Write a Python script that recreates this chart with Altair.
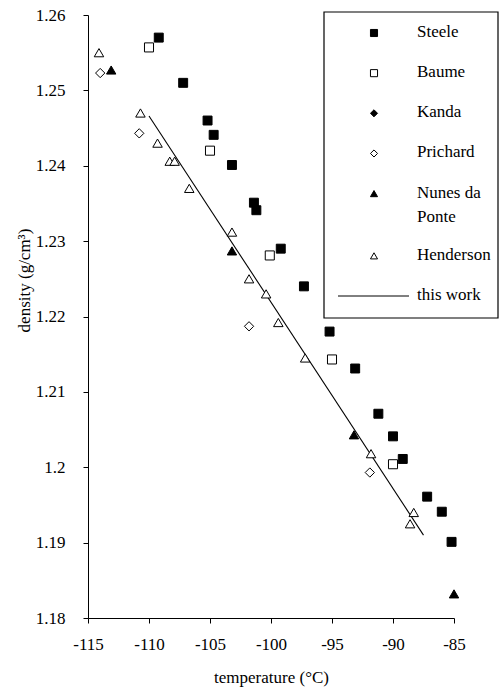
import altair as alt
import pandas as pd

series_names = ["Steele", "Baume", "Kanda", "Prichard", "Nunes da Ponte", "Henderson"]
legend_labels = ["Steele", "Baume", "Kanda", "Prichard", "Nunes da\nPonte", "Henderson", "this work"]

steele_t = [-109.2, -107.2, -105.2, -104.7, -103.2, -101.4, -101.2, -99.2, -97.3, -95.2, -93.1, -91.2, -90.0, -89.2, -87.2, -86.0, -85.2]
steele_d = [1.2570, 1.2510, 1.2460, 1.2441, 1.2401, 1.2351, 1.2341, 1.2290, 1.2240, 1.2180, 1.2131, 1.2071, 1.2041, 1.2011, 1.1961, 1.1941, 1.1901]

baume_t = [-110.0, -105.0, -100.1, -95.0, -90.0]
baume_d = [1.2557, 1.2420, 1.2281, 1.2143, 1.2004]

kanda_t = []
kanda_d = []

prichard_t = [-114.0, -110.8, -101.8, -91.9]
prichard_d = [1.2523, 1.2443, 1.2187, 1.1993]

nunes_t = [-113.1, -103.2, -93.2, -85.0]
nunes_d = [1.2527, 1.2287, 1.2043, 1.1832]

henderson_t = [-114.1, -110.7, -109.3, -108.3, -107.9, -106.7, -103.2, -101.8, -100.4, -99.4, -97.2, -91.8, -88.3, -88.6]
henderson_d = [1.2550, 1.2470, 1.2430, 1.2406, 1.2406, 1.2370, 1.2312, 1.2250, 1.2230, 1.2192, 1.2145, 1.2018, 1.1940, 1.1925]

fit_t = [-110.0, -87.5]
fit_d = [1.2466, 1.1910]

x_ticks = [-115, -110, -105, -100, -95, -90, -85]
y_ticks = [1.18, 1.19, 1.20, 1.21, 1.22, 1.23, 1.24, 1.25, 1.26]

rows = []
for name, ts, ds in [("Steele", steele_t, steele_d), ("Baume", baume_t, baume_d),
                     ("Kanda", kanda_t, kanda_d), ("Prichard", prichard_t, prichard_d),
                     ("Nunes da Ponte", nunes_t, nunes_d), ("Henderson", henderson_t, henderson_d)]:
    for t, d in zip(ts, ds):
        rows.append({"series": name, "sz": name, "temperature": t, "density": d})
pts = pd.DataFrame(rows)
fit = pd.DataFrame({"temperature": fit_t, "density": fit_d})

# legend rows (row index grows by 1 per entry, more for two-line labels)
leg_rows = []
r = 0.0
for key, lab in zip(series_names + ["this work"], legend_labels):
    leg_rows.append({"series": key, "label": lab, "row": r})
    r += 1 + 0.55 * lab.count("\n")
leg = pd.DataFrame(leg_rows)
leg_markers = leg[leg["series"] != "this work"]
leg_line = leg[leg["series"] == "this work"]

shapes = ["square", "square", "diamond", "diamond", "triangle-up", "triangle-up"]
fills = ["black", "white", "black", "white", "black", "white"]
sizes = [80, 90, 65, 65, 95, 130]

FONT = "Liberation Serif"
xscale = alt.Scale(domain=[-115, -85], nice=False, zero=False)
yscale = alt.Scale(domain=[1.18, 1.26], nice=False, zero=False)
shape_scale = alt.Scale(domain=series_names, range=shapes)
fill_scale = alt.Scale(domain=series_names, range=fills)
leg_yscale = alt.Scale(domain=[0, float(leg["row"].max())], range=[18, 281], nice=False, zero=False)

xaxis = alt.Axis(values=x_ticks, labelExpr="toString(datum.value)", title="temperature (°C)",
                 grid=False, tickSize=5, labelPadding=13,
                 titleY=59, titleBaseline="middle",
                 labelFont=FONT, labelFontSize=17, titleFont=FONT, titleFontSize=17,
                 titleFontWeight="normal", domainColor="black", tickColor="black", labelColor="black",
                 titleColor="black", labelFlush=False)
yaxis = alt.Axis(values=y_ticks, labelExpr="toString(round(datum.value*100)/100)", title="density (g/cm³)",
                 grid=False, tickSize=5, labelPadding=18,
                 titleX=-64, titleY=265, titleBaseline="middle", titleAngle=270,
                 labelFont=FONT, labelFontSize=17, titleFont=FONT, titleFontSize=17,
                 titleFontWeight="normal", domainColor="black", tickColor="black", labelColor="black",
                 titleColor="black", labelFlush=False)

points = alt.Chart(pts).mark_point(filled=True, stroke="black", strokeWidth=1, opacity=1).encode(
    x=alt.X("temperature:Q", scale=xscale, axis=xaxis),
    y=alt.Y("density:Q", scale=yscale, axis=yaxis),
    shape=alt.Shape("series:N", scale=shape_scale, legend=None),
    fill=alt.Fill("series:N", scale=fill_scale, legend=None),
    size=alt.Size("sz:N", scale=alt.Scale(domain=series_names, range=sizes), legend=None),
)

line = alt.Chart(fit).mark_line(color="black", strokeWidth=1.1).encode(
    x=alt.X("temperature:Q", scale=xscale, axis=xaxis),
    y=alt.Y("density:Q", scale=yscale, axis=None),
)

box = alt.Chart(pd.DataFrame({"k": [0]})).mark_rect(fill="white", stroke="black", strokeWidth=1.2).encode(
    x=alt.value(236), x2=alt.value(410), y=alt.value(-3), y2=alt.value(303)
)

leg_sym = alt.Chart(leg_markers).mark_point(filled=True, stroke="black", strokeWidth=1, size=50, opacity=1).encode(
    x=alt.value(286),
    y=alt.Y("row:Q", scale=leg_yscale, axis=None),
    shape=alt.Shape("series:N", scale=shape_scale, legend=None),
    fill=alt.Fill("series:N", scale=fill_scale, legend=None),
)

leg_text = alt.Chart(leg).mark_text(align="left", baseline="top", dy=-9, font=FONT, fontSize=17,
                                    lineBreak="\n", lineHeight=24, color="black").encode(
    x=alt.value(329),
    y=alt.Y("row:Q", scale=leg_yscale, axis=None),
    text="label:N",
)

leg_rule = alt.Chart(leg_line).mark_rule(color="black", strokeWidth=1).encode(
    x=alt.value(250), x2=alt.value(321),
    y=alt.Y("row:Q", scale=leg_yscale, axis=None),
)

chart = alt.layer(line, points, box, leg_sym, leg_text, leg_rule).resolve_scale(
    y="independent"
).properties(
    width=366, height=603,
    autosize=alt.AutoSizeParams(type="none"),
    padding={"left": 88, "top": 15, "right": 45, "bottom": 69},
    background="white",
).configure_view(stroke=None)

chart.save("out.html", embed_options={"renderer": "svg", "actions": False})
